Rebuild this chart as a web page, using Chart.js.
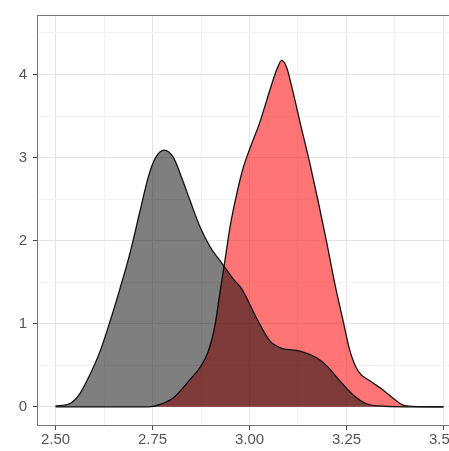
<!DOCTYPE html>
<html>
<head>
<meta charset="utf-8">
<script src="https://cdn.jsdelivr.net/npm/chart.js@4"></script>
<style>
  html, body { margin: 0; padding: 0; overflow: hidden; background: #fff; }
  canvas { display: block; }
</style>
</head>
<body>
<canvas id="chart-area" width="470" height="451"></canvas>
<script>
// density curves
var greyX = [2.50, 2.537, 2.563, 2.589, 2.615, 2.640, 2.666, 2.692, 2.718, 2.740, 2.758, 2.78, 2.804, 2.825, 2.847, 2.872, 2.898, 2.93, 2.958, 2.98, 3.019, 3.053, 3.08, 3.13, 3.173, 3.20, 3.233, 3.268, 3.30, 3.33, 3.40, 3.50];
var greyY = [0.01, 0.04, 0.16, 0.39, 0.67, 1.02, 1.42, 1.85, 2.36, 2.78, 3.00, 3.09, 3.00, 2.76, 2.48, 2.17, 1.93, 1.72, 1.54, 1.42, 1.06, 0.79, 0.71, 0.67, 0.59, 0.49, 0.31, 0.14, 0.04, 0.01, 0, 0];

var redX = [2.50, 2.74, 2.77, 2.804, 2.847, 2.872, 2.894, 2.911, 2.924, 2.937, 2.950, 2.967, 2.984, 3.001, 3.027, 3.053, 3.072, 3.083, 3.096, 3.109, 3.13, 3.156, 3.178, 3.199, 3.22, 3.242, 3.259, 3.28, 3.311, 3.345, 3.371, 3.396, 3.42, 3.50];
var redY = [0, 0, 0.03, 0.11, 0.33, 0.47, 0.67, 0.98, 1.38, 1.77, 2.17, 2.56, 2.88, 3.11, 3.43, 3.82, 4.08, 4.17, 4.08, 3.85, 3.43, 2.92, 2.45, 1.98, 1.48, 1.02, 0.67, 0.43, 0.31, 0.20, 0.10, 0.02, 0.005, 0];

var xTicks = [2.5, 2.625, 2.75, 2.875, 3.0, 3.125, 3.25, 3.375, 3.5];
var yTicks = [0, 0.5, 1, 1.5, 2, 2.5, 3, 3.5, 4, 4.5];

function pts(xs, ys) {
    return xs.map(function(x, i) { return {x: x, y: ys[i]}; });
}

function isMajor(v, step) {
    return Math.abs(v / step - Math.round(v / step)) < 1e-6;
}

var panelBorder = {
    id: 'panelBorder',
    afterDatasetsDraw: function(chart) {
        var a = chart.chartArea, ctx = chart.ctx;
        ctx.save();
        ctx.strokeStyle = '#777';
        ctx.lineWidth = 1;
        ctx.strokeRect(a.left + 0.5, a.top + 0.5, a.right - a.left - 1, a.bottom - a.top - 1);
        ctx.restore();
    }
};

var config = {
    type: 'line',
    data: {
        datasets: [
            {
                data: pts(greyX, greyY),
                backgroundColor: 'rgba(0,0,0,0.5)',
                borderColor: '#111',
                borderWidth: 1.3,
                fill: 'origin',
                pointRadius: 0,
                cubicInterpolationMode: 'monotone'
            },
            {
                data: pts(redX, redY),
                backgroundColor: 'rgba(255,0,0,0.54)',
                borderColor: '#111',
                borderWidth: 1.3,
                fill: 'origin',
                pointRadius: 0,
                cubicInterpolationMode: 'monotone'
            }
        ]
    },
    options: {
        responsive: false,
        animation: false,
        layout: { padding: { top: 8, right: 8, left: 0, bottom: 0 } },
        plugins: { legend: { display: false }, tooltip: { enabled: false } },
        scales: {
            x: {
                type: 'linear',
                min: 2.4523,
                max: 3.5477,
                afterBuildTicks: function(s) { s.ticks = xTicks.map(function(v) { return {value: v}; }); },
                afterFit: function(s) { s.height = 25; },
                border: { display: false },
                grid: {
                    color: function(c) { return isMajor(c.tick.value, 0.25) ? '#e4e4e4' : '#f1f1f1'; },
                    tickColor: function(c) { return isMajor(c.tick.value, 0.25) ? '#444' : 'rgba(0,0,0,0)'; },
                    tickLength: 4
                },
                ticks: {
                    autoSkip: false,
                    maxRotation: 0,
                    padding: 1,
                    color: '#555',
                    font: { family: 'Liberation Sans', size: 15 },
                    callback: function(v) { return isMajor(v, 0.25) ? v.toFixed(2) : ''; }
                }
            },
            y: {
                min: -0.231,
                max: 4.716,
                afterBuildTicks: function(s) { s.ticks = yTicks.map(function(v) { return {value: v}; }); },
                afterFit: function(s) { s.width = 37; },
                border: { display: false },
                grid: {
                    color: function(c) { return isMajor(c.tick.value, 1) ? '#e4e4e4' : '#f1f1f1'; },
                    tickColor: function(c) { return isMajor(c.tick.value, 1) ? '#444' : 'rgba(0,0,0,0)'; },
                    tickLength: 4
                },
                ticks: {
                    autoSkip: false,
                    padding: 6,
                    color: '#555',
                    font: { family: 'Liberation Sans', size: 15 },
                    callback: function(v) { return isMajor(v, 1) ? String(v) : ''; }
                }
            }
        }
    },
    plugins: [panelBorder]
};

window.onload = function() {
    var ctx = document.getElementById("chart-area").getContext("2d");
    window.myChart = new Chart(ctx, config);
};
</script>
</body>
</html>
